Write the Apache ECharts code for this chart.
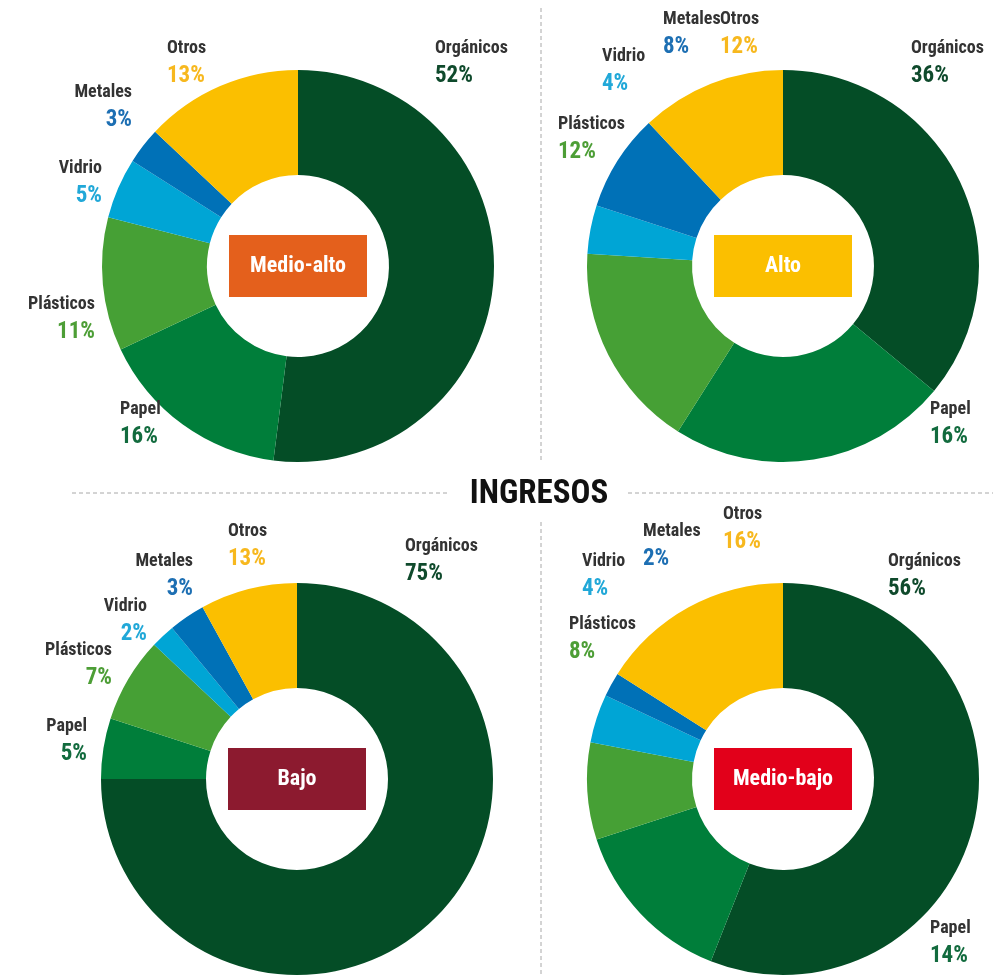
<!DOCTYPE html>
<html>
<head>
<meta charset="utf-8">
<script src="https://cdn.jsdelivr.net/npm/echarts@6/dist/echarts.min.js"></script>
<style>
  html, body { margin: 0; padding: 0; background: #fff; }
  #chart { width: 997px; height: 976px; }
</style>
</head>
<body>
<div id="chart"></div>
<script>
// ---- data ----
const categories = ['Orgánicos', 'Papel', 'Plásticos', 'Vidrio', 'Metales', 'Otros'];
const chartTitles = ['Medio-alto', 'Alto', 'Bajo', 'Medio-bajo'];
const mainTitle = 'INGRESOS';

// drawn slice shares
const medioAltoValues = [52, 16, 11, 5, 3, 13];
const altoValues      = [36, 23, 17, 4, 8, 12];
const bajoValues      = [75, 5, 7, 2, 3, 8];
const medioBajoValues = [56, 14, 8, 4, 2, 16];

// printed percentage labels
const medioAltoLabels = ['52%', '16%', '11%', '5%', '3%', '13%'];
const altoLabels      = ['36%', '16%', '12%', '4%', '8%', '12%'];
const bajoLabels      = ['75%', '5%', '7%', '2%', '3%', '13%'];
const medioBajoLabels = ['56%', '14%', '8%', '4%', '2%', '16%'];

// ---- styles / layout ----
const FONT = "'Roboto Condensed', 'Liberation Sans Narrow', 'DejaVu Sans Condensed', 'Roboto', sans-serif";
const sliceColors = ['#044d26', '#007e3a', '#46a035', '#00a5d5', '#0071b7', '#fbbf00'];
const pctColors   = ['#0f4a2c', '#126b3e', '#4d9e36', '#21a8d8', '#1d6fb3', '#f7b81e'];
const boxColors   = ['#e4601c', '#fbbf00', '#8c1a2f', '#e2001a'];

const centers = [[298, 266], [783, 266], [297, 779], [783, 779]];
const radius = [91, 196];

// label anchors: [x, capTopY of name, align]
const labelPos = [
  [[435, 42, 'left'], [120, 403, 'left'], [95, 298, 'right'], [102, 162, 'right'], [132, 86, 'right'], [167, 42, 'left']],
  [[911, 42, 'left'], [930, 403, 'left'], [558, 118, 'left'], [602, 50, 'left'], [663, 13, 'left'], [720, 13, 'left']],
  [[405, 540, 'left'], [87, 720, 'right'], [112, 644, 'right'], [147, 600, 'right'], [193, 555, 'right'], [228, 525, 'left']],
  [[888, 555, 'left'], [930, 922, 'left'], [569, 618, 'left'], [582, 555, 'left'], [643, 525, 'left'], [723, 508, 'left']]
];

const allValues = [medioAltoValues, altoValues, bajoValues, medioBajoValues];
const allLabels = [medioAltoLabels, altoLabels, bajoLabels, medioBajoLabels];

const rich = { n: { fontFamily: FONT, fontSize: 18, fontWeight: 'bold', color: '#333333', lineHeight: 27 } };
pctColors.forEach((c, i) => {
  rich['p' + i] = { fontFamily: FONT, fontSize: 23, fontWeight: 'bold', color: c, lineHeight: 28 };
});

const series = allValues.map((vals, k) => ({
  type: 'pie',
  center: centers[k],
  radius: radius,
  startAngle: 90,
  clockwise: true,
  avoidLabelOverlap: false,
  silent: true,
  animation: false,
  itemStyle: { borderWidth: 0 },
  emphasis: { disabled: true },
  labelLine: { show: false },
  label: {
    show: true,
    position: 'outside',
    rich: rich,
    formatter: p => '{n|' + p.name + '}\n{p' + p.dataIndex + '|' + allLabels[k][p.dataIndex] + '}'
  },
  labelLayout: p => {
    const lp = labelPos[k][p.dataIndex];
    return { x: lp[0], y: lp[1] - 7, align: lp[2], verticalAlign: 'top' };
  },
  data: categories.map((c, i) => ({ name: c, value: vals[i], itemStyle: { color: sliceColors[i] } }))
}));

// center boxes
const graphics = [];
centers.forEach((c, k) => {
  graphics.push({
    type: 'rect', shape: { x: c[0] - 69, y: c[1] - 31, width: 138, height: 62 },
    style: { fill: boxColors[k] }, silent: true, z: 10
  });
  graphics.push({
    type: 'text', x: c[0], y: c[1], silent: true, z: 11,
    style: { text: chartTitles[k], fill: '#ffffff', font: 'bold 22px ' + FONT, textAlign: 'center', textVerticalAlign: 'middle' }
  });
});
// separators
const dash = { stroke: '#a8a8a8', lineWidth: 1, lineDash: [4, 3] };
graphics.push({ type: 'line', shape: { x1: 541, y1: 8, x2: 541, y2: 462 }, style: dash, silent: true });
graphics.push({ type: 'line', shape: { x1: 541, y1: 522, x2: 541, y2: 976 }, style: dash, silent: true });
graphics.push({ type: 'line', shape: { x1: 72, y1: 493, x2: 450, y2: 493 }, style: dash, silent: true });
graphics.push({ type: 'line', shape: { x1: 628, y1: 493, x2: 993, y2: 493 }, style: dash, silent: true });
graphics.push({
  type: 'text', x: 539, y: 495, silent: true,
  style: { text: mainTitle, fill: '#111111', font: 'bold 33px ' + FONT, textAlign: 'center', textVerticalAlign: 'middle' }
});

const chart = echarts.init(document.getElementById('chart'));
chart.setOption({
  backgroundColor: '#ffffff',
  animation: false,
  series: series,
  graphic: { elements: graphics }
});
</script>
</body>
</html>
